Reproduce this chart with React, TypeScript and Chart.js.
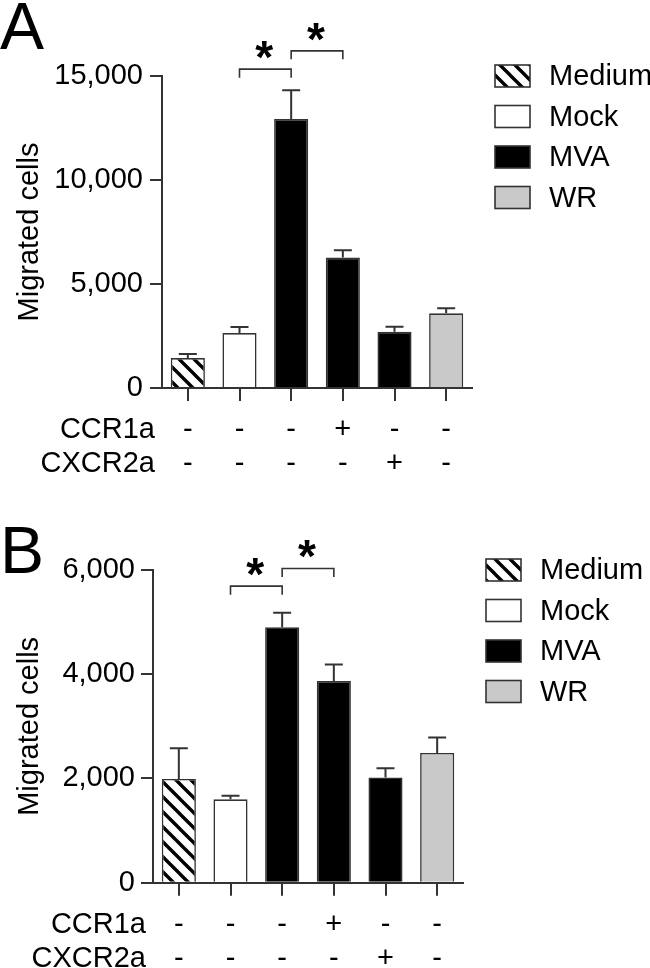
import React, { useEffect, useRef } from 'react';
import { Chart, registerables } from 'chart.js';

Chart.register(...registerables);

// ---------- data ----------
const categories = ['Medium', 'Mock', 'MVA', 'MVA', 'MVA', 'WR'];
const legendLabels = ['Medium', 'Mock', 'MVA', 'WR'];
const rowLabels = ['CCR1a', 'CXCR2a'];
const ccr1aRow = ['-', '-', '-', '+', '-', '-'];
const cxcr2aRow = ['-', '-', '-', '-', '+', '-'];

const panelAValues = [1440, 2640, 12930, 6270, 2710, 3590];
const panelAErrors = [190, 290, 1390, 350, 240, 240];
const panelAMax = 15000;
const panelAStep = 5000;

const panelBValues = [1990, 1600, 4900, 3870, 2020, 2490];
const panelBErrors = [590, 70, 280, 315, 175, 295];
const panelBMax = 6000;
const panelBStep = 2000;

const sigPairs = [
  [1, 2],
  [2, 3],
];
const sigMark = '*';
const yTitle = 'Migrated cells';

// ---------- styles ----------
const FONT = '"Liberation Sans", Arial, Helvetica, sans-serif';
const AXIS = '#333333';
const W = 650;
const H = 484;
const colorFor: Record<string, string> = {
  Mock: '#ffffff',
  MVA: '#000000',
  WR: '#c9c9c9',
};

function makeHatch(ctxSrc: CanvasRenderingContext2D) {
  const s = 15;
  const c = document.createElement('canvas');
  c.width = s;
  c.height = s;
  const g = c.getContext('2d')!;
  g.fillStyle = '#ffffff';
  g.fillRect(0, 0, s, s);
  g.strokeStyle = '#000000';
  g.lineWidth = 3.4;
  g.lineCap = 'square';
  for (const k of [-s, 0, s]) {
    g.beginPath();
    g.moveTo(-2, k - 2);
    g.lineTo(s + 2, k + s + 2);
    g.stroke();
  }
  return ctxSrc.createPattern(c, 'repeat')!;
}

type PanelCfg = {
  letter: string;
  letterSize: number;
  letterBaseline: number;
  values: number[];
  errors: number[];
  max: number;
  step: number;
  axisX: number;
  plotTop: number;
  plotBottom: number;
  plotRight: number;
  tickPad: number;
  bracketGap: number;
  stackGap: number;
  top: number;
};

const panelA: PanelCfg = {
  letter: 'A',
  letterSize: 66,
  letterBaseline: 49,
  values: panelAValues,
  errors: panelAErrors,
  max: panelAMax,
  step: panelAStep,
  axisX: 162,
  plotTop: 76,
  plotBottom: 388,
  plotRight: 472,
  tickPad: 7,
  bracketGap: 21,
  stackGap: 18.3,
  top: 0,
};

const panelB: PanelCfg = {
  letter: 'B',
  letterSize: 66,
  letterBaseline: 89,
  values: panelBValues,
  errors: panelBErrors,
  max: panelBMax,
  step: panelBStep,
  axisX: 153,
  plotTop: 86,
  plotBottom: 398.7,
  plotRight: 463,
  tickPad: 6,
  bracketGap: 26.6,
  stackGap: 17.7,
  top: 484,
};

function overlayPlugin(cfg: PanelCfg, hatch: CanvasPattern) {
  return {
    id: 'overlay' + cfg.letter,
    afterDatasetsDraw(chart: any) {
      const ctx: CanvasRenderingContext2D = chart.ctx;
      const xs = chart.scales.x;
      const ys = chart.scales.y;
      const ca = chart.chartArea;
      const meta = chart.getDatasetMeta(0);
      ctx.save();

      // error bars (upper whisker only)
      ctx.strokeStyle = AXIS;
      ctx.lineWidth = 2;
      const errTops: number[] = [];
      meta.data.forEach((el: any, i: number) => {
        const top = ys.getPixelForValue(cfg.values[i] + cfg.errors[i]);
        errTops.push(top);
        ctx.beginPath();
        ctx.moveTo(el.x, el.y);
        ctx.lineTo(el.x, top);
        ctx.moveTo(el.x - 9, top);
        ctx.lineTo(el.x + 9, top);
        ctx.stroke();
      });

      // significance brackets
      ctx.lineWidth = 1.6;
      let base = Infinity;
      sigPairs.forEach(([a, b]) => {
        base = Math.min(base, errTops[a], errTops[b]);
      });
      ctx.font = `bold 100px ${FONT}`;
      const m100 = ctx.measureText(sigMark);
      const h100 = m100.actualBoundingBoxAscent + m100.actualBoundingBoxDescent;
      const starSize = (100 * 17.5) / (h100 || 30);
      ctx.font = `bold ${starSize}px ${FONT}`;
      const ms = ctx.measureText(sigMark);
      sigPairs.forEach(([a, b], k) => {
        const yy = base - cfg.bracketGap - k * cfg.stackGap;
        const xa = xs.getPixelForValue(a);
        const xb = xs.getPixelForValue(b);
        ctx.beginPath();
        ctx.moveTo(xa, yy + 8.5);
        ctx.lineTo(xa, yy);
        ctx.lineTo(xb, yy);
        ctx.lineTo(xb, yy + 8.5);
        ctx.stroke();
        const cy = yy - 19;
        const baseline = cy + (ms.actualBoundingBoxAscent - ms.actualBoundingBoxDescent) / 2;
        ctx.fillStyle = '#000';
        ctx.textAlign = 'center';
        ctx.textBaseline = 'alphabetic';
        ctx.fillText(sigMark, (xa + xb) / 2 - 1, baseline);
      });

      // +/- table
      ctx.font = `29px ${FONT}`;
      ctx.fillStyle = '#000';
      ctx.textBaseline = 'alphabetic';
      const rows = [ccr1aRow, cxcr2aRow];
      rows.forEach((row, r) => {
        const by = ca.bottom + 50 + r * 34;
        ctx.textAlign = 'right';
        ctx.fillText(rowLabels[r], ca.left - 7, by);
        ctx.textAlign = 'center';
        row.forEach((s, i) => {
          ctx.fillText(s, xs.getPixelForValue(i), by);
        });
      });

      // legend
      legendLabels.forEach((lab, i) => {
        const cy = ca.top + i * 40.5;
        const bx = ca.right + 23;
        ctx.fillStyle = lab === 'Medium' ? hatch : colorFor[lab];
        ctx.fillRect(bx, cy - 11, 35, 22);
        ctx.strokeStyle = AXIS;
        ctx.lineWidth = 1.6;
        ctx.strokeRect(bx, cy - 11, 35, 22);
        ctx.fillStyle = '#000';
        ctx.font = `29px ${FONT}`;
        ctx.textAlign = 'left';
        ctx.textBaseline = 'middle';
        ctx.fillText(lab, bx + 54, cy + 1);
      });

      // panel letter
      ctx.font = `${cfg.letterSize}px ${FONT}`;
      ctx.textAlign = 'left';
      ctx.textBaseline = 'alphabetic';
      ctx.fillStyle = '#000';
      ctx.fillText(cfg.letter, 0, cfg.letterBaseline);

      ctx.restore();
    },
  };
}

function Panel({ cfg }: { cfg: PanelCfg }) {
  const ref = useRef<HTMLCanvasElement>(null);
  useEffect(() => {
    const canvas = ref.current!;
    const ctx = canvas.getContext('2d')!;
    const hatch = makeHatch(ctx);
    const fills = categories.map((c) => (c === 'Medium' ? hatch : colorFor[c]));
    const chart = new Chart(canvas, {
      type: 'bar',
      data: {
        labels: categories,
        datasets: [
          {
            data: cfg.values,
            backgroundColor: fills as any,
            borderColor: AXIS,
            borderWidth: 1.6,
            barPercentage: 0.66,
            categoryPercentage: 1,
          },
        ],
      },
      options: {
        responsive: false,
        animation: false,
        devicePixelRatio: 1,
        layout: {
          padding: { left: 0, top: cfg.plotTop, right: W - cfg.plotRight, bottom: 0 },
        },
        plugins: {
          legend: { display: false },
          tooltip: { enabled: false },
        },
        scales: {
          x: {
            type: 'category',
            ticks: { display: false },
            grid: {
              display: true,
              drawOnChartArea: false,
              drawTicks: true,
              tickLength: 13,
              offset: false,
              color: AXIS,
              lineWidth: 2,
            },
            border: { display: true, color: AXIS, width: 2 },
            afterFit: (s: any) => {
              s.height = H - cfg.plotBottom;
            },
          },
          y: {
            min: 0,
            max: cfg.max,
            ticks: {
              stepSize: cfg.step,
              color: '#000',
              padding: cfg.tickPad,
              font: { family: FONT, size: 29 },
              callback: (v: any) => Number(v).toLocaleString('en-US'),
            },
            grid: {
              display: true,
              drawOnChartArea: false,
              drawTicks: true,
              tickLength: 12,
              color: AXIS,
              lineWidth: 2,
            },
            border: { display: true, color: AXIS, width: 2 },
            title: {
              display: true,
              text: yTitle,
              color: '#000',
              font: { family: FONT, size: 29 },
              padding: { top: 13, bottom: 0 },
            },
            afterFit: (s: any) => {
              s.width = cfg.axisX;
            },
          },
        },
      },
      plugins: [overlayPlugin(cfg, hatch)],
    });
    return () => chart.destroy();
  }, [cfg]);
  return (
    <canvas
      ref={ref}
      width={W}
      height={H}
      style={{ position: 'absolute', left: 0, top: cfg.top, display: 'block', width: W, height: H }}
    />
  );
}

export default function App() {
  return (
    <div
      style={{
        position: 'absolute',
        left: 0,
        top: 0,
        width: 650,
        height: 968,
        background: '#ffffff',
        overflow: 'hidden',
      }}
    >
      <Panel cfg={panelA} />
      <Panel cfg={panelB} />
    </div>
  );
}
